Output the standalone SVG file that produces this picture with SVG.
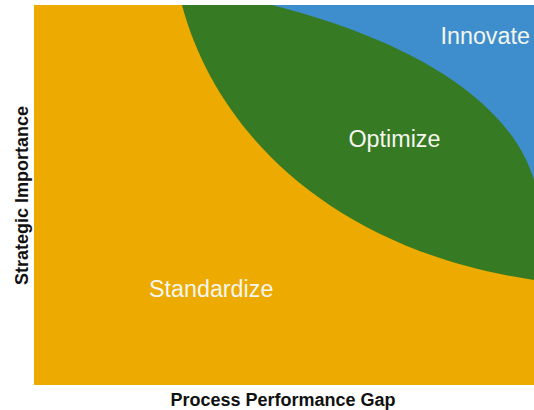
<svg xmlns="http://www.w3.org/2000/svg" width="534" height="410" viewBox="0 0 534 410">
  <style>
    .zone-label { font-family: "Liberation Sans", Arial, sans-serif; font-size: 23.3px; fill: #F4F6EE; }
    .axis-label { font-family: "Liberation Sans", Arial, sans-serif; font-size: 18px; font-weight: bold; fill: #111; }
  </style>
  <rect width="534" height="410" fill="#FFFFFF"/>
  <g id="standardize">
    <rect x="34" y="5" width="500" height="380" fill="#EDAA00"/>
    <text class="zone-label" x="149" y="297">Standardize</text>
  </g>
  <g id="optimize">
    <path d="M182,5 C215,130 330,250 534,280 L534,5 Z" fill="#367A23"/>
    <text class="zone-label" x="348.5" y="147">Optimize</text>
  </g>
  <g id="innovate">
    <path d="M272,5 C410,40 510,100 534,180 L534,5 Z" fill="#3E8ECD"/>
    <text class="zone-label" x="440.5" y="44">Innovate</text>
  </g>
  <g id="axes">
    <text class="axis-label" x="283" y="406" text-anchor="middle">Process Performance Gap</text>
    <text class="axis-label" text-anchor="middle" transform="translate(28,195.5) rotate(-90)">Strategic Importance</text>
  </g>
</svg>
